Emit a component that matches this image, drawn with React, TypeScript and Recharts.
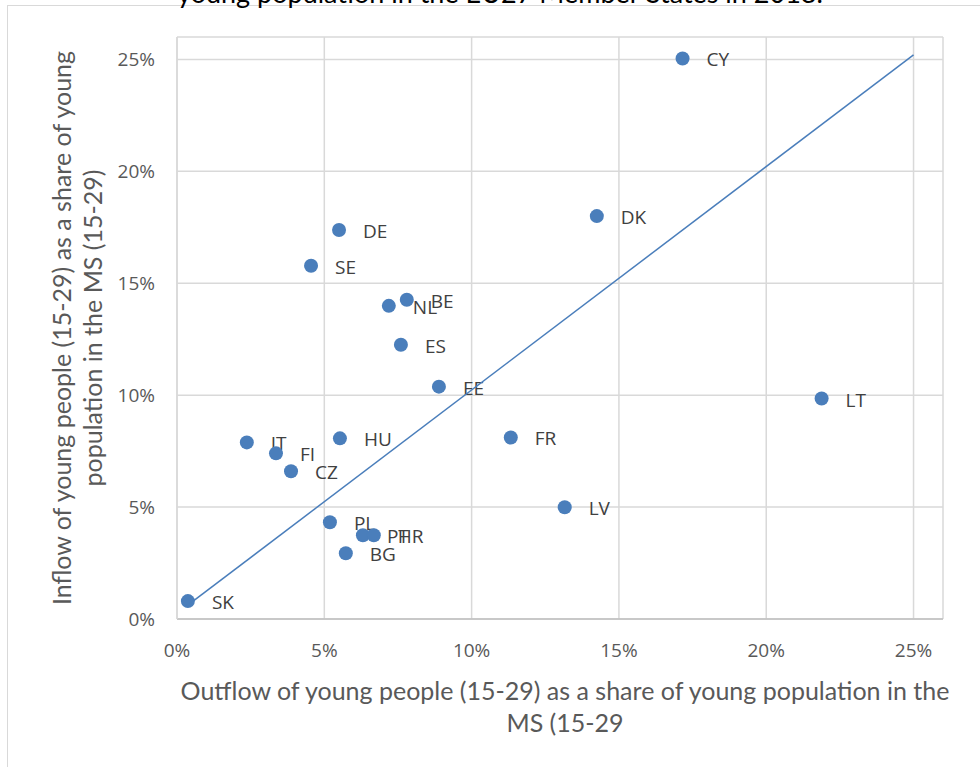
import { ScatterChart, Scatter, XAxis, YAxis, CartesianGrid } from 'recharts';

const countries = ['CY', 'DK', 'DE', 'SE', 'BE', 'NL', 'ES', 'EE', 'LT', 'FR', 'HU', 'IT', 'FI', 'CZ', 'LV', 'PL', 'PT', 'HR', 'BG', 'SK'];
const outflow = [0.1716, 0.1425, 0.055, 0.0455, 0.078, 0.0719, 0.076, 0.0889, 0.2188, 0.1133, 0.0553, 0.0237, 0.0336, 0.0387, 0.1316, 0.0519, 0.0631, 0.0668, 0.0573, 0.0037];
const inflow = [0.2504, 0.18, 0.1738, 0.1578, 0.1426, 0.1399, 0.1225, 0.1038, 0.0985, 0.0811, 0.0807, 0.0789, 0.074, 0.066, 0.0499, 0.0432, 0.0374, 0.0374, 0.0294, 0.008];

const trendX = [0.003, 0.25];
const trendY = [0.0055, 0.252];

const axisTicks = [0, 0.05, 0.1, 0.15, 0.2, 0.25];

const points = countries.map((name, i) => ({ name, x: outflow[i], y: inflow[i] }));
const trend = trendX.map((x, i) => ({ x, y: trendY[i] }));

const BLUE = '#4a7ebb';
const pct = (v: number) => `${Math.round(v * 100)}%`;

const Dot = (props: any) => {
  const { cx, cy, payload } = props;
  return (
    <g>
      <circle cx={cx} cy={cy} r={7} fill={BLUE} />
      <text x={cx + 24} y={cy + 8} fontSize={19} fill="#404040" fontFamily="'Open Sans', sans-serif">
        {payload.name}
      </text>
    </g>
  );
};

export default function App() {
  return (
    <div style={{ position: 'absolute', left: 0, top: 0, width: 980, height: 767, overflow: 'hidden', background: '#fff' }}>
      <div style={{ position: 'absolute', left: 7, top: 5, width: 1000, height: 800, border: '1px solid #d9d9d9' }} />
      <div
        style={{
          position: 'absolute', left: 10, width: 980, top: -21, textAlign: 'center', fontSize: 27, lineHeight: '27px',
          fontFamily: 'Lato, sans-serif', color: '#000',
        }}
      >
        young population in the EU27 Member States in 2018.
      </div>
      <div style={{ position: 'absolute', left: 0, top: 0 }}>
        <ScatterChart width={980} height={767} margin={{ top: 37, right: 37, bottom: 88, left: 117 }}>
          <CartesianGrid stroke="#d9d9d9" strokeWidth={1.5} />
          <XAxis
            type="number"
            dataKey="x"
            domain={[0, 0.26]}
            ticks={axisTicks}
            tickFormatter={pct}
            height={60}
            tickLine={false}
            axisLine={{ stroke: '#bfbfbf', strokeWidth: 1.5 }}
            tickMargin={19}
            tick={{ fontSize: 19, fill: '#595959', fontFamily: "'Open Sans', sans-serif" }}
          />
          <YAxis
            type="number"
            dataKey="y"
            domain={[0, 0.26]}
            ticks={axisTicks}
            tickFormatter={pct}
            width={60}
            tickLine={false}
            axisLine={{ stroke: '#d9d9d9', strokeWidth: 1.5 }}
            tickMargin={16}
            tick={{ fontSize: 19, fill: '#595959', fontFamily: "'Open Sans', sans-serif" }}
          />
          <Scatter data={points} shape={<Dot />} isAnimationActive={false} />
          <Scatter
            data={trend}
            line={{ stroke: BLUE, strokeWidth: 1.5 }}
            shape={() => null}
            isAnimationActive={false}
          />
        </ScatterChart>
      </div>
      <div
        style={{
          position: 'absolute', left: 77 - 320, top: 328 - 31, width: 640, height: 62,
          transform: 'rotate(-90deg)', textAlign: 'center', fontSize: 25, lineHeight: '31px',
          fontFamily: 'Lato, sans-serif', color: '#595959',
        }}
      >
        Inflow of young people (15-29) as a share of young
        <br />
        population in the MS (15-29)
      </div>
      <div
        style={{
          position: 'absolute', left: 565 - 420, top: 674, width: 840, textAlign: 'center', fontSize: 25,
          lineHeight: '32px', fontFamily: 'Lato, sans-serif', color: '#595959',
        }}
      >
        Outflow of young people (15-29) as a share of young population in the
        <br />
        MS (15-29
      </div>
    </div>
  );
}
